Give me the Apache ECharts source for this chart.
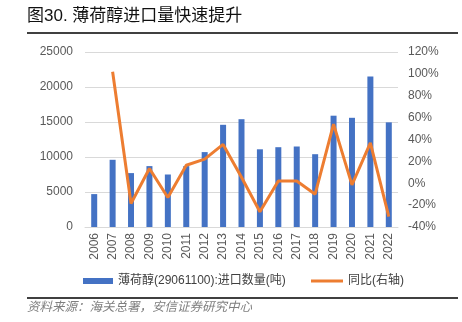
<!DOCTYPE html>
<html><head><meta charset="utf-8">
<script src="https://cdn.jsdelivr.net/npm/echarts@6/dist/echarts.min.js"></script>
<style>html,body{margin:0;padding:0;background:#fff}#c{width:462px;height:322px}</style>
</head><body><div id="c"></div>
<script>
const years = ['2006','2007','2008','2009','2010','2011','2012','2013','2014','2015','2016','2017','2018','2019','2020','2021','2022'];
const importVolume = [4700, 9600, 7700, 8700, 7500, 8700, 10700, 14600, 15400, 11100, 11400, 11500, 10400, 15900, 15600, 21500, 14950];
const yoyPct = [null, 102, -18.5, 13.5, -13, 16.5, 22, 35.5, 5.5, -26, 2, 2, -10, 54, -1.5, 37, -30.5];
const leftTicks = [0, 5000, 10000, 15000, 20000, 25000];
const rightTicks = [-40, -20, 0, 20, 40, 60, 80, 100, 120];
const barName = '薄荷醇(29061100):进口数量(吨)';
const lineName = '同比(右轴)';
const titleText = '图30. 薄荷醇进口量快速提升';
const sourceText = '资料来源：海关总署，安信证券研究中心';

const FONT = '"Liberation Sans", "Noto Sans CJK SC", sans-serif';
const chart = echarts.init(document.getElementById('c'));
chart.setOption({
  animation: false,
  backgroundColor: '#fff',
  textStyle: { fontFamily: FONT },
  graphic: [
    { type: 'text', left: 27, top: 8, style: { text: titleText, font: '17px ' + FONT, fill: '#111' } },
    { type: 'rect', shape: { x: 27, y: 32, width: 431, height: 2 }, style: { fill: '#404040' } },
    { type: 'rect', shape: { x: 27, y: 297, width: 431, height: 2 }, style: { fill: '#404040' } },
    { type: 'text', left: 27, top: 301, style: { text: sourceText, font: 'italic 12.5px ' + FONT, fill: '#7f7f7f' } }
  ],
  grid: { left: 85, right: 64, top: 52, bottom: 95, containLabel: false },
  legend: [
    {
      top: 275, left: 83, padding: 0, itemGap: 5, itemWidth: 30, itemHeight: 6,
      textStyle: { fontSize: 12, color: '#404040', fontFamily: FONT },
      data: [{ name: barName, icon: 'rect' }]
    },
    {
      top: 275, left: 311, padding: 0, itemWidth: 32, itemHeight: 3,
      textStyle: { fontSize: 12, color: '#404040', fontFamily: FONT },
      data: [{ name: lineName, icon: 'rect' }]
    }
  ],
  xAxis: {
    type: 'category', data: years,
    axisLine: { show: true, lineStyle: { color: '#d9d9d9' } },
    axisTick: { show: false },
    axisLabel: { rotate: 90, fontSize: 12, color: '#595959', margin: 6, fontFamily: FONT }
  },
  yAxis: [
    {
      type: 'value', min: 0, max: 25000, interval: 5000,
      axisLine: { show: false }, axisTick: { show: false },
      axisLabel: { fontSize: 12, color: '#595959', margin: 12, fontFamily: FONT, formatter: v => String(v) },
      splitLine: { lineStyle: { color: '#d9d9d9' } }
    },
    {
      type: 'value', min: -40, max: 120, interval: 20,
      axisLine: { show: false }, axisTick: { show: false },
      axisLabel: { fontSize: 12, color: '#595959', margin: 10, formatter: '{value}%', fontFamily: FONT },
      splitLine: { show: false }
    }
  ],
  series: [
    {
      name: barName, type: 'bar', data: importVolume, barWidth: 6, yAxisIndex: 0,
      itemStyle: { color: '#4472C4' }
    },
    {
      name: lineName, type: 'line', data: yoyPct, yAxisIndex: 1,
      symbol: 'none', lineStyle: { color: '#ED7D31', width: 3 }, itemStyle: { color: '#ED7D31' }
    }
  ]
});
</script></body></html>
